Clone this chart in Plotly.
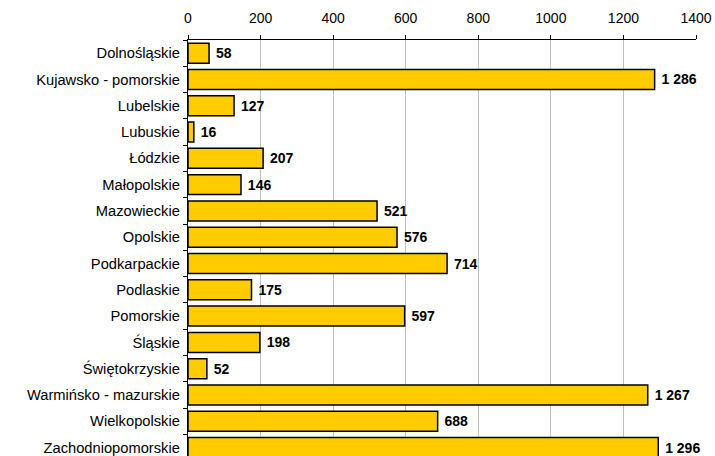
import plotly.graph_objects as go

regions = ["Dolnośląskie", "Kujawsko - pomorskie", "Lubelskie", "Lubuskie", "Łódzkie",
           "Małopolskie", "Mazowieckie", "Opolskie", "Podkarpackie", "Podlaskie",
           "Pomorskie", "Śląskie", "Świętokrzyskie", "Warmińsko - mazurskie",
           "Wielkopolskie", "Zachodniopomorskie"]
values = [58, 1286, 127, 16, 207, 146, 521, 576, 714, 175, 597, 198, 52, 1267, 688, 1296]
tick_vals = [0, 200, 400, 600, 800, 1000, 1200, 1400]

fig = go.Figure(go.Bar(
    x=values, y=regions, orientation="h",
    marker=dict(color="#FFCC00", line=dict(color="#000000", width=1.5)),
    texttemplate=" %{x:,}", textposition="outside", cliponaxis=False,
    textfont=dict(family="Liberation Sans, Arial", size=14, color="black", weight="bold"),
    hoverinfo="skip",
))

fig.update_layout(
    width=715, height=456,
    margin=dict(l=188, r=19, t=40, b=0, autoexpand=False),
    paper_bgcolor="white", plot_bgcolor="white",
    separators=", ",
    bargap=0.24,
    showlegend=False,
    font=dict(family="Liberation Sans, Arial", size=14, color="black"),
)
fig.update_xaxes(
    side="top", range=[0, 1400], tickvals=tick_vals, automargin=False,
    showgrid=True, gridcolor="#BFBFBF", gridwidth=1.2,
    showline=True, linecolor="black", linewidth=1.2,
    ticks="outside", ticklen=4, tickcolor="black", ticklabelstandoff=6,
    zeroline=False, tickfont=dict(size=14),
)
fig.update_yaxes(
    type="category", categoryorder="array", categoryarray=regions,
    range=[15.32, -0.5], automargin=False,
    showline=True, linecolor="black", linewidth=1.2,
    ticks="outside", ticklen=4, tickcolor="black", tickson="boundaries",
    ticklabelstandoff=4,
    showgrid=False, tickfont=dict(size=14.7),
)
fig.write_html(
    "out.html",
    config={"displayModeBar": False, "staticPlot": True},
    post_script="document.body.style.margin='0';document.body.style.overflow='hidden';",
)
